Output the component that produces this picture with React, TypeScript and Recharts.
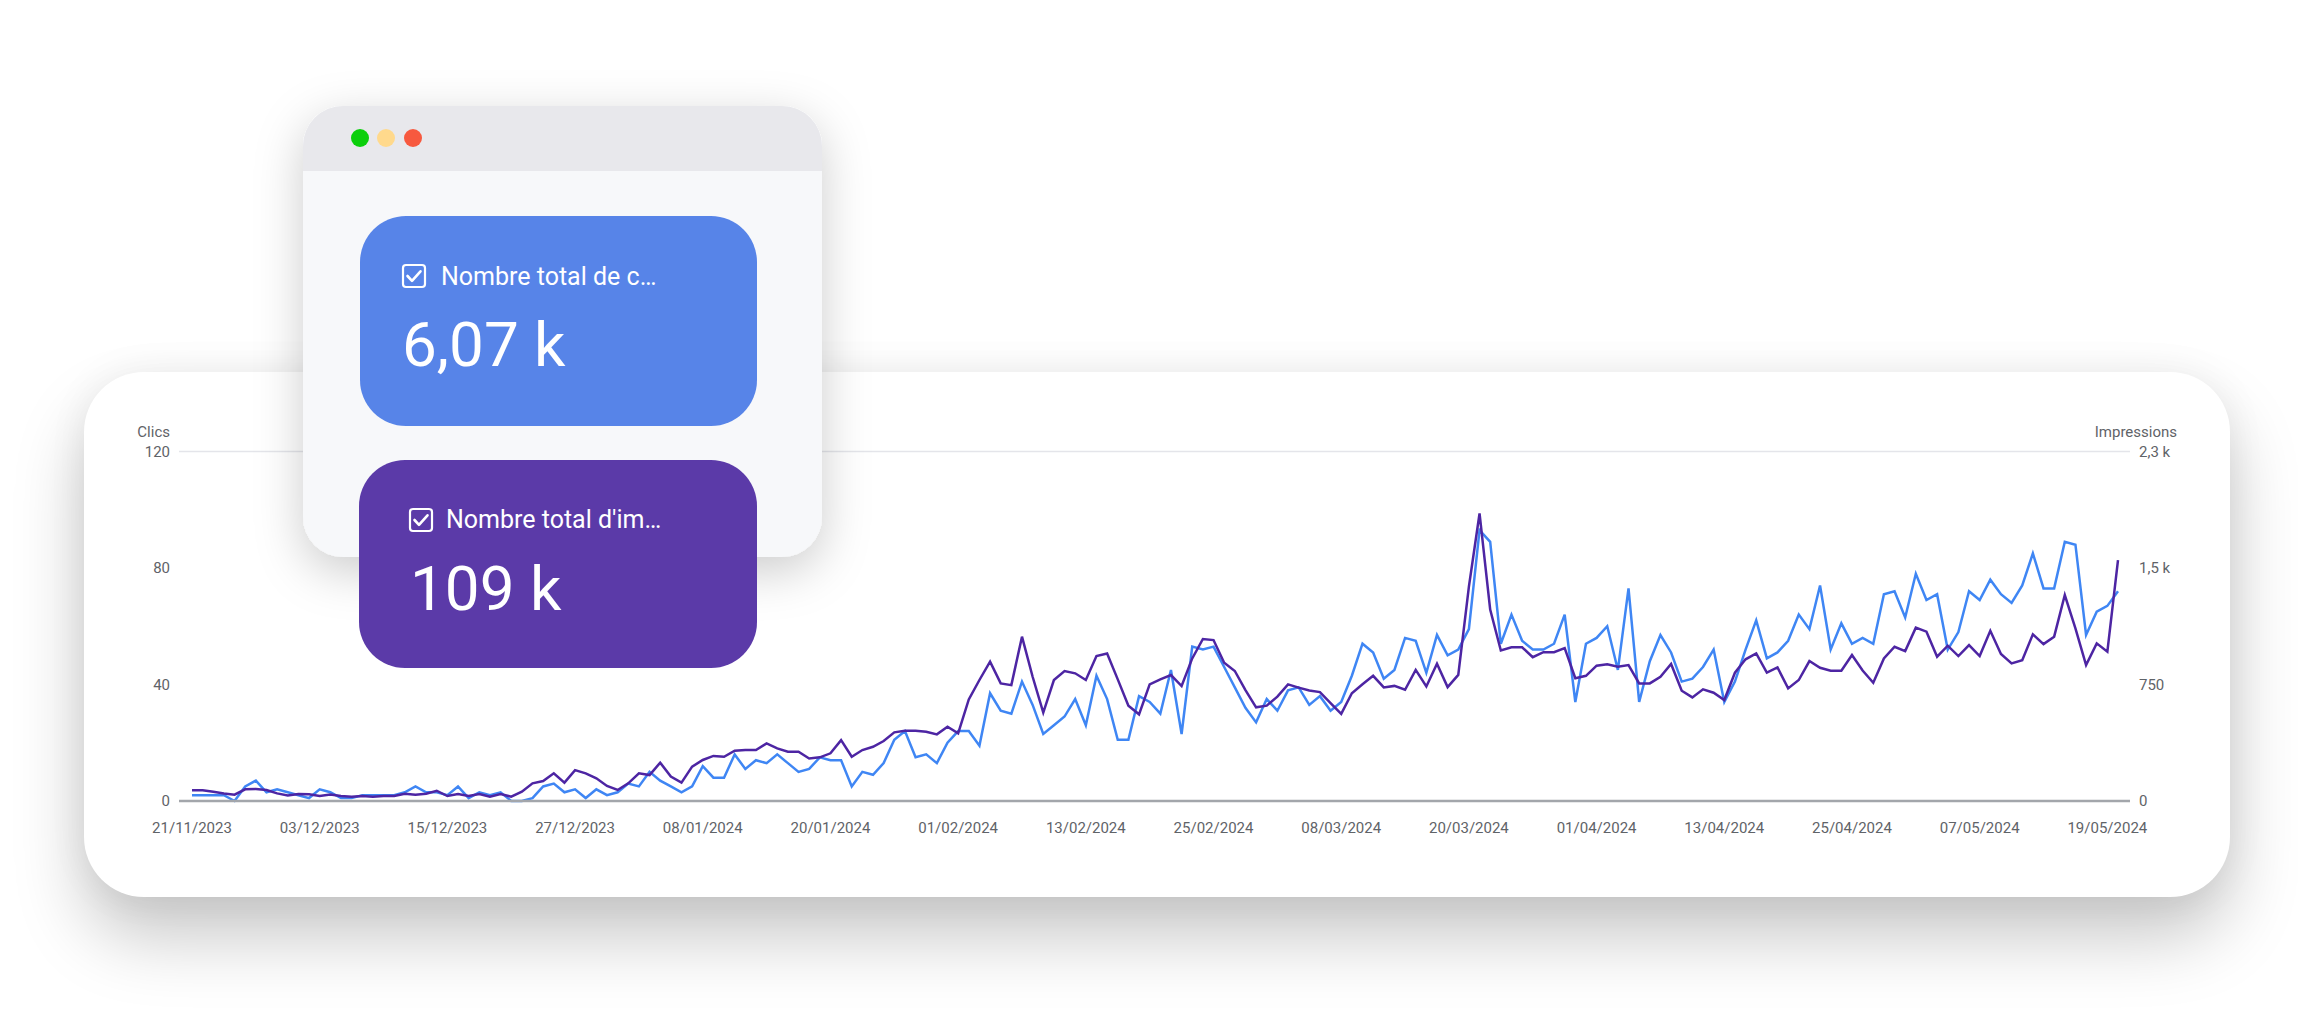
import React from 'react';
import { LineChart, Line, XAxis, YAxis, CartesianGrid } from 'recharts';

// ---- data ----
const X_TICK_LABELS = [
  '21/11/2023', '03/12/2023', '15/12/2023', '27/12/2023', '08/01/2024', '20/01/2024',
  '01/02/2024', '13/02/2024', '25/02/2024', '08/03/2024', '20/03/2024', '01/04/2024',
  '13/04/2024', '25/04/2024', '07/05/2024', '19/05/2024',
];
const X_TICK_STEP_DAYS = 12;

const CLICKS = [
  2, 2, 2, 2, 0, 5, 7, 3, 4, 3, 2, 1, 4, 3, 1, 1, 2, 2, 2, 2, 3, 5, 3, 3, 2, 5,
  1, 3, 2, 3, 0, 0, 1, 5, 6, 3, 4, 1, 4, 2, 3, 6, 5, 10, 7, 5, 3, 5, 12, 8, 8, 16, 11,
  14, 13, 16, 13, 10, 11, 15, 14, 14, 5, 10, 9, 13, 21, 24, 15, 16, 13, 20, 24, 24, 19, 37, 31, 30, 41,
  33, 23, 26, 29, 35, 26, 43, 35, 21, 21, 36, 34, 30, 45, 23, 53, 52, 53, 46, 39, 32, 27, 35, 31, 38, 39,
  33, 36, 31, 34, 43, 54, 51, 42, 45, 56, 55, 44, 57, 50, 52, 59, 93, 89, 54, 64, 55, 52, 52, 54, 64, 34, 54,
  56, 60, 45, 73, 34, 48, 57, 51, 41, 42, 46, 52, 34, 41, 52, 62, 49, 51, 55, 64, 59, 74, 52, 61, 54, 56,
  54, 71, 72, 63, 78, 69, 71, 52, 58, 72, 69, 76, 71, 68, 74, 85, 73, 73, 89, 88, 57, 65, 67, 72,
];

const IMPRESSIONS = [
  69, 69, 60, 49, 41, 75, 77, 71, 49, 36, 45, 43, 32, 41, 32, 28, 32, 28, 32, 32, 47, 41, 47, 66, 32, 45,
  32, 45, 28, 45, 28, 60, 114, 129, 178, 118, 199, 178, 146, 97, 71, 114, 178, 167, 247, 157, 118, 221, 264, 290, 285, 324, 328,
  328, 371, 339, 317, 317, 274, 281, 307, 392, 285, 328, 349, 386, 442, 452, 452, 446, 429, 478, 435, 654, 779, 897, 757, 746, 1058,
  800, 569, 779, 837, 822, 779, 933, 950, 783, 614, 558, 751, 783, 811, 740, 918, 1043, 1036, 890, 837, 714, 603, 614, 672, 751, 730,
  711, 701, 630, 561, 694, 752, 806, 731, 741, 716, 844, 737, 883, 733, 812, 1380, 1851, 1232, 969, 990, 990, 926, 958, 958, 984, 790, 806,
  871, 880, 864, 875, 757, 757, 800, 882, 710, 667, 719, 697, 650, 826, 912, 950, 826, 860, 725, 779, 901, 858, 839, 839, 940, 840,
  761, 918, 993, 965, 1116, 1090, 929, 1000, 933, 1004, 933, 1096, 946, 886, 907, 1073, 1010, 1058, 1326, 1111, 875, 1015, 961, 1551,
];

const LEFT_TICKS = [0, 40, 80, 120];
const RIGHT_TICKS = [0, 750, 1500, 2250];
const RIGHT_TICK_LABELS = ['0', '750', '1,5 k', '2,3 k'];

const LEFT_AXIS_TITLE = 'Clics';
const RIGHT_AXIS_TITLE = 'Impressions';
const CLICKS_CARD_LABEL = 'Nombre total de c…';
const CLICKS_CARD_VALUE = '6,07 k';
const IMPR_CARD_LABEL = "Nombre total d'im…";
const IMPR_CARD_VALUE = '109 k';

const data = CLICKS.map((c, i) => ({ day: i, clicks: c, impressions: IMPRESSIONS[i] }));
const xTicks = X_TICK_LABELS.map((_, i) => i * X_TICK_STEP_DAYS);

const FONT = 'Roboto, "Noto Sans", Arial, sans-serif';
const TICK_STYLE = { fontSize: 15, fill: '#5f6368', fontFamily: FONT };

const Checkbox = ({ x, y }: { x: number; y: number }) => (
  <g>
    <rect x={x} y={y} width={22} height={22} rx={3} fill="none" stroke="#fff" strokeWidth={2.2} />
    <path d={`M${x + 4.5} ${y + 11} l4.5 4.8 l8.5 -9.5`} fill="none" stroke="#fff" strokeWidth={2.6} strokeLinecap="round" strokeLinejoin="round" />
  </g>
);

export default function App() {
  return (
    <div style={{ position: 'absolute', left: 0, top: 0, width: 2298, height: 1030, background: '#fff', overflow: 'hidden', fontFamily: FONT }}>
      {/* main card */}
      <div style={{
        position: 'absolute', left: 84, top: 372, width: 2146, height: 525, borderRadius: 60, background: '#fff',
        boxShadow: '0 40px 70px rgba(0,0,0,0.22), 0 0 40px rgba(0,0,0,0.06)',
      }} />
      <div style={{ position: 'absolute', left: 84, top: 372 }}>
        <LineChart width={2146} height={525} data={data} margin={{ top: 79.5, right: 40, bottom: 56, left: 35 }}>
          <CartesianGrid horizontal vertical={false} stroke="#e4e5ea" strokeWidth={1.5} />
          <XAxis
            dataKey="day" type="number" domain={[0, CLICKS.length - 1]} ticks={xTicks}
            tickFormatter={(v: number) => X_TICK_LABELS[Math.round(v / X_TICK_STEP_DAYS)]}
            padding={{ left: 13, right: 12 }} height={40}
            axisLine={{ stroke: '#a3a6ab', strokeWidth: 2.5 }} tickLine={false} tickSize={6} tickMargin={15}
            tick={TICK_STYLE} interval={0}
          />
          <YAxis
            yAxisId="left" orientation="left" domain={[0, 120]} ticks={LEFT_TICKS} width={60}
            axisLine={false} tickLine={false} tickSize={6} tickMargin={3} tick={TICK_STYLE} interval={0}
          />
          <YAxis
            yAxisId="right" orientation="right" domain={[0, 2250]} ticks={RIGHT_TICKS} width={60}
            tickFormatter={(v: number) => RIGHT_TICK_LABELS[RIGHT_TICKS.indexOf(v)] ?? String(v)}
            axisLine={false} tickLine={false} tickSize={6} tickMargin={3} tick={TICK_STYLE} interval={0}
          />
          <Line yAxisId="left" type="linear" dataKey="clicks" stroke="#3f86f4" strokeWidth={2.5} dot={false} isAnimationActive={false} />
          <Line yAxisId="right" type="linear" dataKey="impressions" stroke="#4d25a3" strokeWidth={2.5} dot={false} isAnimationActive={false} />
        </LineChart>
      </div>

      {/* overlay: axis titles and metrics window */}
      <svg width={2298} height={1030} style={{ position: 'absolute', left: 0, top: 0, pointerEvents: 'none' }}>
        <defs>
          <filter id="winShadow" x="-30%" y="-30%" width="160%" height="170%">
            <feDropShadow dx="0" dy="14" stdDeviation="24" floodColor="#000" floodOpacity="0.2" />
          </filter>
          <clipPath id="winClip">
            <rect x={303} y={106} width={519} height={451} rx={40} />
          </clipPath>
        </defs>
        <text x={170} y={432} dy="0.355em" textAnchor="end" fontSize={15} fill="#5f6368" fontFamily={FONT}>{LEFT_AXIS_TITLE}</text>
        <text x={2177} y={432} dy="0.355em" textAnchor="end" fontSize={15} fill="#5f6368" fontFamily={FONT}>{RIGHT_AXIS_TITLE}</text>

        <rect x={303} y={106} width={519} height={451} rx={40} fill="#f7f8fa" filter="url(#winShadow)" />
        <g clipPath="url(#winClip)">
          <rect x={303} y={106} width={519} height={65} fill="#e8e8ec" />
        </g>
        <circle cx={360} cy={138} r={9} fill="#0bcf0b" />
        <circle cx={386} cy={138} r={9} fill="#ffd98c" />
        <circle cx={413} cy={138} r={9} fill="#f7593f" />

        <rect x={360} y={216} width={397} height={210} rx={46} fill="#5784e8" />
        <Checkbox x={403} y={265} />
        <text x={441} y={285} fontSize={25} fontWeight={400} fill="#fff" fontFamily={FONT}>{CLICKS_CARD_LABEL}</text>
        <text x={402} y={366} fontSize={62} fill="#fff" fontFamily={FONT}>{CLICKS_CARD_VALUE}</text>

        <rect x={359} y={460} width={398} height={208} rx={46} fill="#5b3aa8" />
        <Checkbox x={410} y={509} />
        <text x={446} y={528} fontSize={25} fontWeight={400} fill="#fff" fontFamily={FONT}>{IMPR_CARD_LABEL}</text>
        <text x={410} y={610} fontSize={62} fill="#fff" fontFamily={FONT}>{IMPR_CARD_VALUE}</text>
      </svg>
    </div>
  );
}
